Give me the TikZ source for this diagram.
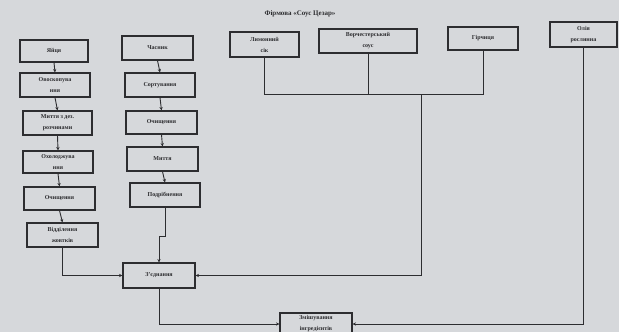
\documentclass[tikz,border=0pt]{standalone}
\usepackage{fontspec}
\setmainfont{Liberation Serif}
\usetikzlibrary{arrows.meta}
\definecolor{paper}{RGB}{214,216,219}
\definecolor{ink}{RGB}{45,45,48}
\tikzset{
  box/.style={draw=ink, line width=1.1pt, align=center, inner sep=0pt,
    font=\fontsize{6}{11}\selectfont\bfseries, text=ink},
  conn/.style={draw=ink, line width=0.9pt},
  arr/.style={conn, -{Stealth[length=3.4pt,width=3.2pt]}}
}
\begin{document}
\begin{tikzpicture}[x=1pt,y=-1pt]
\useasboundingbox (0,0) rectangle (619,332);
\fill[paper] (0,0) rectangle (619,332);
\begin{scope}
\clip (0,0) rectangle (619,332);
\node[font=\fontsize{7}{8}\selectfont\bfseries, text=ink] (title) at (300,14) {Фірмова «Соус Цезар»};
% left column
\node[box, minimum width=68, minimum height=22] (yai) at (54,51) {Яйця};
\node[box, minimum width=70, minimum height=24] (ovo) at (55,85) {Овоскопува\\ння};
\node[box, minimum width=69, minimum height=24] (myt) at (57.5,123) {Миття з дез.\\розчинами};
\node[box, minimum width=70, minimum height=22] (oho) at (58,162) {Охолоджува\\ння};
\node[box, minimum width=71, minimum height=23] (och1) at (59.5,198.5) {Очищення};
\node[box, minimum width=71, minimum height=24] (vid) at (62.5,235) {Відділення\\жовтків};
% middle column
\node[box, minimum width=71, minimum height=24] (chas) at (157.5,48) {Часник};
\node[box, minimum width=70, minimum height=24] (sort) at (160,85) {Сортування};
\node[box, minimum width=71, minimum height=23] (och2) at (161.5,122.5) {Очищення};
\node[box, minimum width=71, minimum height=24] (myt2) at (162.5,159) {Миття};
\node[box, minimum width=70, minimum height=24] (podr) at (165,195) {Подрібнення};
\node[box, minimum width=72, minimum height=25] (zed) at (159,275.5) {З'єднання};
% top row
\node[box, minimum width=69, minimum height=25] (lym) at (264.5,44.5) {Лимонний\\сік};
\node[box, minimum width=98, minimum height=24] (vor) at (368,41) {Ворчестерський\\соус};
\node[box, minimum width=70, minimum height=23] (hir) at (483,38.5) {Гірчиця};
\node[box, minimum width=67, minimum height=25] (oli) at (583.5,34.5) {Олія\\рослинна};
% bottom
\node[box, minimum width=72, minimum height=22] (zmi) at (316,324) {Змішування\\інгредієнтів};
% connectors left
\draw[arr] (yai.south) -- (ovo.north);
\draw[arr] (ovo.south) -- (myt.north);
\draw[arr] (myt.south) -- (oho.north);
\draw[arr] (oho.south) -- (och1.north);
\draw[arr] (och1.south) -- (vid.north);
\draw[arr] (vid.south) |- (zed.west);
% connectors middle
\draw[arr] (chas.south) -- (sort.north);
\draw[arr] (sort.south) -- (och2.north);
\draw[arr] (och2.south) -- (myt2.north);
\draw[arr] (myt2.south) -- (podr.north);
\draw[arr] (podr.south) -- (podr.south |- 0,236) -| (zed.north);
% top bus
\coordinate (bus) at (421,94);
\draw[conn] (lym.south) -- (lym.south |- bus) -| (hir.south);
\draw[conn] (vor.south) -- (vor.south |- bus);
\draw[arr] (bus) |- (zed.east);
\draw[arr] (oli.south) |- (zmi.east);
\draw[arr] (zed.south) |- (zmi.west);
\end{scope}
\end{tikzpicture}
\end{document}
